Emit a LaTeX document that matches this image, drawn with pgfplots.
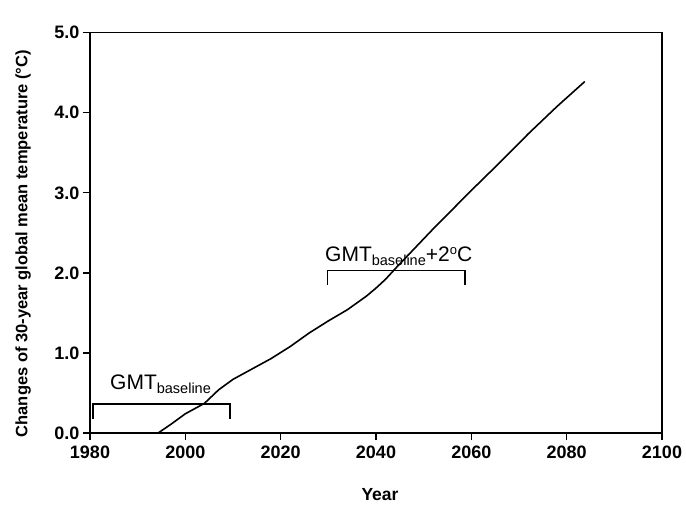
\documentclass[border=0pt]{standalone}
\usepackage{fontspec}
\setmainfont{Liberation Sans}
\usepackage{pgfplots}
\pgfplotsset{compat=1.18}

% 30-year running mean of global mean temperature change
\pgfplotstableread{
year   dT
1994.3 0.00
1997   0.11
2000   0.24
2004   0.37
2007   0.54
2010   0.67
2014   0.80
2018   0.93
2022   1.08
2026   1.25
2030   1.40
2034   1.54
2038   1.71
2040   1.81
2042   1.92
2044   2.05
2048   2.30
2052   2.55
2056   2.79
2060   3.03
2066   3.38
2072   3.74
2078   4.08
2083.8 4.39
}\gmtdata

\begin{document}
\begin{tikzpicture}
\useasboundingbox (-90bp,-77bp) rectangle (596bp,433bp);
\begin{axis}[
  scale only axis,
  width=572bp, height=400.3bp,
  xmin=1980, xmax=2100, ymin=0, ymax=5,
  xtick={1980,2000,...,2100},
  ytick={0,1,...,5},
  xtick pos=bottom, ytick pos=left,
  tick align=outside,
  major tick length=7bp,
  minor tick num=0,
  axis line style={line width=1.5bp},
  every tick/.style={black, line width=1.3bp},
  /pgf/number format/assume math mode=true,
  tick label style={font=\fontsize{18bp}{21bp}\selectfont\bfseries},
  xticklabel style={/pgf/number format/1000 sep={}, yshift=-2bp},
  yticklabel style={/pgf/number format/.cd, fixed, fixed zerofill, precision=1},
  xlabel={Year},
  ylabel={Changes of 30-year global mean temperature (\textdegree C)},
  every axis x label/.style={at={(axis description cs:0.507,-0.155)}, anchor=center,
    font=\fontsize{17.5bp}{20bp}\selectfont\bfseries},
  every axis y label/.style={at={(axis description cs:-0.117,0.473)}, anchor=center, rotate=90,
    font=\fontsize{16.5bp}{19bp}\selectfont\bfseries},
  clip=false,
]
\addplot[black, line width=1.6bp] table[x=year, y=dT] {\gmtdata};

% baseline period bracket (1981-2010)
\addplot[black, line width=1.4bp] coordinates {(1980.6,0.18) (1980.6,0.36) (2009.4,0.36) (2009.4,0.18)};
% +2 degree period bracket (2030-2059)
\addplot[black, line width=1.4bp] coordinates {(2029.8,1.85) (2029.8,2.03) (2058.7,2.03) (2058.7,1.85)};

\node[anchor=base west, inner sep=0pt, font=\fontsize{21bp}{24bp}\selectfont]
  at (axis cs:1984.2,0.54) {GMT\raisebox{-4bp}{\fontsize{14.5bp}{16bp}\selectfont baseline}};
\node[anchor=base west, inner sep=0pt, font=\fontsize{21bp}{24bp}\selectfont]
  at (axis cs:2029.3,2.14) {GMT\raisebox{-4bp}{\fontsize{14.5bp}{16bp}\selectfont baseline}+2\raisebox{7bp}{\fontsize{13bp}{15bp}\selectfont o}C};
\end{axis}
\end{tikzpicture}
\end{document}
